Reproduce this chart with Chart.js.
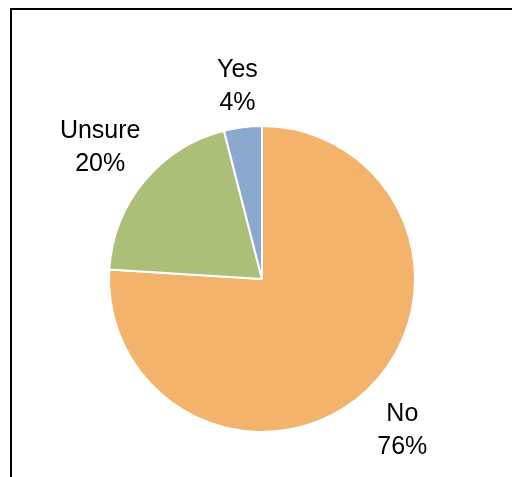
<!DOCTYPE html>
<html>
<head>
<meta charset="utf-8">
<script src="https://cdn.jsdelivr.net/npm/chart.js@4"></script>
<style>
  html, body { margin: 0; padding: 0; background: #fff; }
  #wrap { position: relative; width: 512px; height: 477px; }
</style>
</head>
<body>
<div id="wrap"><canvas id="answerChart" width="512" height="477"></canvas></div>
<script>
const answers = ['No', 'Unsure', 'Yes'];
const shares = [76, 20, 4];
const sliceColors = ['#F4B36B', '#ACBF78', '#8BA8CF'];

// thin black frame along the top and left edges
const framePlugin = {
  id: 'frame',
  beforeDraw(chart) {
    const ctx = chart.ctx;
    ctx.save();
    ctx.strokeStyle = '#000';
    ctx.lineWidth = 2;
    ctx.beginPath();
    ctx.moveTo(11, 477);
    ctx.lineTo(11, 9);
    ctx.lineTo(512, 9);
    ctx.stroke();
    ctx.restore();
  }
};

// two-line labels (name + percent) placed just outside each slice
const outsideLabels = {
  id: 'outsideLabels',
  afterDatasetsDraw(chart) {
    const ctx = chart.ctx;
    const meta = chart.getDatasetMeta(0);
    const fontSize = 25;
    const lineH = 33;
    const gap = 17;
    ctx.save();
    ctx.font = `${fontSize}px "Liberation Sans", Arial, sans-serif`;
    ctx.fillStyle = '#000';
    ctx.textAlign = 'center';
    ctx.textBaseline = 'alphabetic';
    meta.data.forEach((arc, i) => {
      const { x, y, startAngle, endAngle, outerRadius } = arc.getProps(['x', 'y', 'startAngle', 'endAngle', 'outerRadius'], true);
      const mid = (startAngle + endAngle) / 2;
      const dx = Math.cos(mid), dy = Math.sin(mid);
      const lines = [answers[i], shares[i] + '%'];
      const w = Math.max(...lines.map(t => ctx.measureText(t).width));
      const cap = fontSize * 0.72;
      const h = lineH + cap;
      const halfW = w / 2 + 1, halfH = h / 2;
      const edge = Math.min(
        Math.abs(dx) > 1e-6 ? halfW / Math.abs(dx) : Infinity,
        Math.abs(dy) > 1e-6 ? halfH / Math.abs(dy) : Infinity
      );
      const d = outerRadius + gap + edge;
      const cx = x + dx * d, cy = y + dy * d;
      const top = cy - halfH;
      ctx.fillText(lines[0], cx, top + cap);
      ctx.fillText(lines[1], cx, top + cap + lineH);
    });
    ctx.restore();
  }
};

new Chart(document.getElementById('answerChart'), {
  type: 'pie',
  data: {
    labels: answers,
    datasets: [{
      data: shares,
      backgroundColor: sliceColors,
      borderColor: '#fff',
      borderWidth: 2
    }]
  },
  options: {
    responsive: false,
    animation: false,
    layout: {
      padding: { left: 108, right: 96, top: 125, bottom: 44 }
    },
    plugins: {
      legend: { display: false },
      tooltip: { enabled: false }
    }
  },
  plugins: [framePlugin, outsideLabels]
});
</script>
</body>
</html>
